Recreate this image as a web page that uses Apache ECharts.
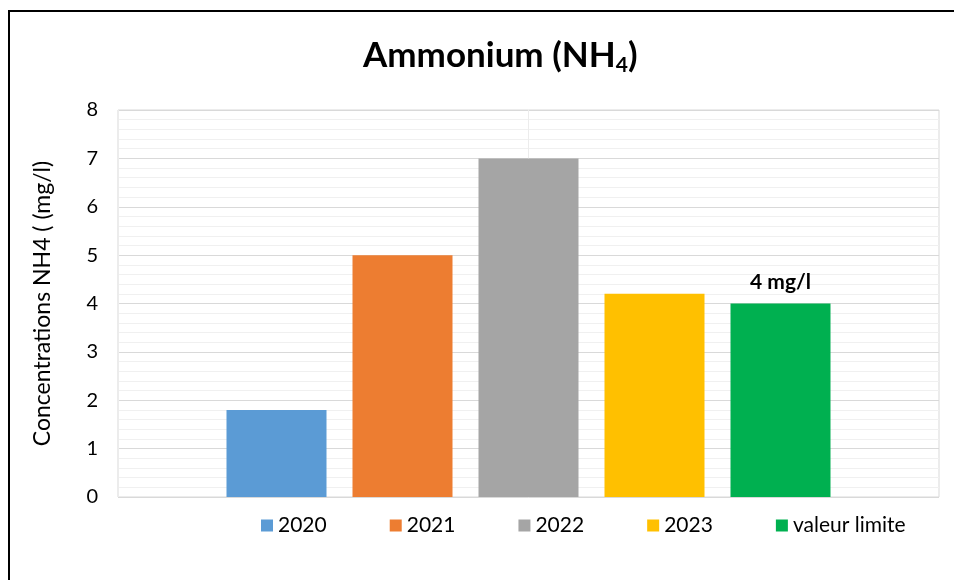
<!DOCTYPE html>
<html>
<head>
<meta charset="utf-8">
<script src="https://cdn.jsdelivr.net/npm/echarts@6/dist/echarts.min.js"></script>
<style>
  html, body { margin: 0; padding: 0; background: #fff; }
  #chart { width: 954px; height: 580px; }
</style>
</head>
<body>
<div id="chart"></div>
<script>
// données
const seriesNames = ['2020', '2021', '2022', '2023', 'valeur limite']
const seriesValues = [1.8, 5, 7, 4.2, 4]
const seriesColors = ['#5b9bd5', '#ed7d31', '#a5a5a5', '#ffc000', '#00b050']
const categories = ['']
const yTicks = [0, 1, 2, 3, 4, 5, 6, 7, 8]

const font = 'Lato, "Open Sans", sans-serif'

const chart = echarts.init(document.getElementById('chart'))

const series = seriesNames.map((name, i) => ({
  name,
  type: 'bar',
  data: [seriesValues[i]],
  barWidth: 100,
  barGap: '26%',
  itemStyle: { color: seriesColors[i] },
  label: name === 'valeur limite'
    ? {
        show: true,
        position: 'top',
        distance: 11,
        formatter: '4 mg/l',
        color: '#000',
        fontFamily: font,
        fontWeight: 'bold',
        fontSize: 21
      }
    : { show: false }
}))

chart.setOption({
  animation: false,
  textStyle: { fontFamily: font },
  graphic: [
    {
      type: 'rect',
      shape: { x: 9, y: 11, width: 1200, height: 1200 },
      style: { fill: 'none', stroke: '#000', lineWidth: 2 },
      silent: true
    }
  ],
  title: {
    text: '{a|Ammonium (NH}{s|4}{a|)}',
    left: 358,
    top: 30,
    textStyle: {
      rich: {
        a: { fontFamily: font, fontWeight: 'bold', fontSize: 35, color: '#000' },
        s: { fontFamily: font, fontWeight: 'bold', fontSize: 21, color: '#000', verticalAlign: 'bottom', padding: [20, 0, 0, 0] }
      }
    }
  },
  legend: {
    data: seriesNames,
    left: 256,
    top: 510,
    itemWidth: 12,
    itemHeight: 12,
    itemGap: 63,
    icon: 'rect',
    textStyle: { fontFamily: font, fontSize: 21, color: '#000' }
  },
  grid: {
    left: 118,
    right: 15,
    top: 110,
    bottom: 83,
    show: true,
    borderColor: '#d9d9d9',
    borderWidth: 1
  },
  xAxis: [
    {
      type: 'category',
      data: categories,
      axisLine: { show: false },
      axisTick: { show: false },
      axisLabel: { show: false },
      splitLine: { show: false }
    },
    {
      // ligne verticale au centre de la catégorie
      type: 'value',
      min: 0,
      max: 2,
      interval: 1,
      position: 'bottom',
      axisLine: { show: false },
      axisTick: { show: false },
      axisLabel: { show: false },
      splitLine: { show: true, lineStyle: { color: '#ececec', width: 1 } }
    }
  ],
  yAxis: {
    type: 'value',
    min: yTicks[0],
    max: yTicks[yTicks.length - 1],
    interval: 1,
    name: 'Concentrations NH4 ( (mg/l)',
    nameLocation: 'middle',
    nameGap: 64,
    nameTextStyle: { fontFamily: font, fontSize: 23, color: '#000' },
    axisLine: { show: false },
    axisTick: { show: false },
    axisLabel: { margin: 20, fontFamily: font, fontSize: 20, color: '#000' },
    splitLine: { show: true, lineStyle: { color: '#d9d9d9', width: 1 } },
    minorTick: { show: false, splitNumber: 5 },
    minorSplitLine: { show: true, lineStyle: { color: '#f0f0f0', width: 1 } }
  },
  series
})
</script>
</body>
</html>
